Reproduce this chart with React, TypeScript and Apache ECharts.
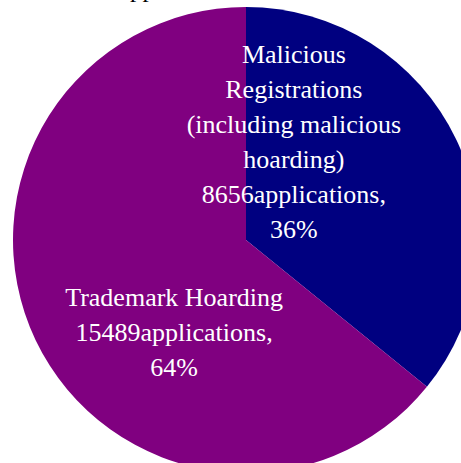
import React, { useEffect, useRef } from "react";
import * as echarts from "echarts";

const categories = [
  "Malicious Registrations (including malicious hoarding)",
  "Trademark Hoarding",
];
const labelTitles = [
  "Malicious\nRegistrations\n(including malicious\nhoarding)",
  "Trademark Hoarding",
];
const applications = [8656, 15489];
const colors = ["#000080", "#800080"];
const labelOffsets = [
  [-60, -47],
  [36, 41],
];
const titleText = "Applications";

export default function App() {
  const ref = useRef<HTMLDivElement>(null);
  useEffect(() => {
    if (!ref.current) return;
    const chart = echarts.init(ref.current, null, { renderer: "svg" });
    const data = categories.map((name, i) => ({
      name,
      value: applications[i],
      itemStyle: { color: colors[i] },
      label: { offset: labelOffsets[i] },
    }));
    chart.setOption({
      animation: false,
      backgroundColor: "#ffffff",
      graphic: [
        {
          type: "text",
          left: 112,
          top: -24,
          style: {
            text: titleText,
            font: "25px 'Liberation Serif', 'Times New Roman', serif",
            fill: "#000",
          },
        },
      ],
      series: [
        {
          type: "pie",
          center: [246, 240],
          radius: 233,
          startAngle: 90,
          clockwise: true,
          percentPrecision: 0,
          avoidLabelOverlap: false,
          itemStyle: { borderWidth: 0 },
          emphasis: { disabled: true },
          label: {
            show: true,
            position: "inside",
            color: "#ffffff",
            fontFamily: "'Liberation Serif', 'Times New Roman', serif",
            fontSize: 26,
            lineHeight: 35,
            align: "center",
            formatter: (p: any) =>
              `${labelTitles[p.dataIndex]}\n${p.value}applications,\n${p.percent}%`,
          },
          labelLine: { show: false },
          data,
        },
      ],
    });
    return () => chart.dispose();
  }, []);
  return (
    <div
      ref={ref}
      style={{ position: "fixed", left: 0, top: 0, width: 461, height: 463 }}
    />
  );
}
